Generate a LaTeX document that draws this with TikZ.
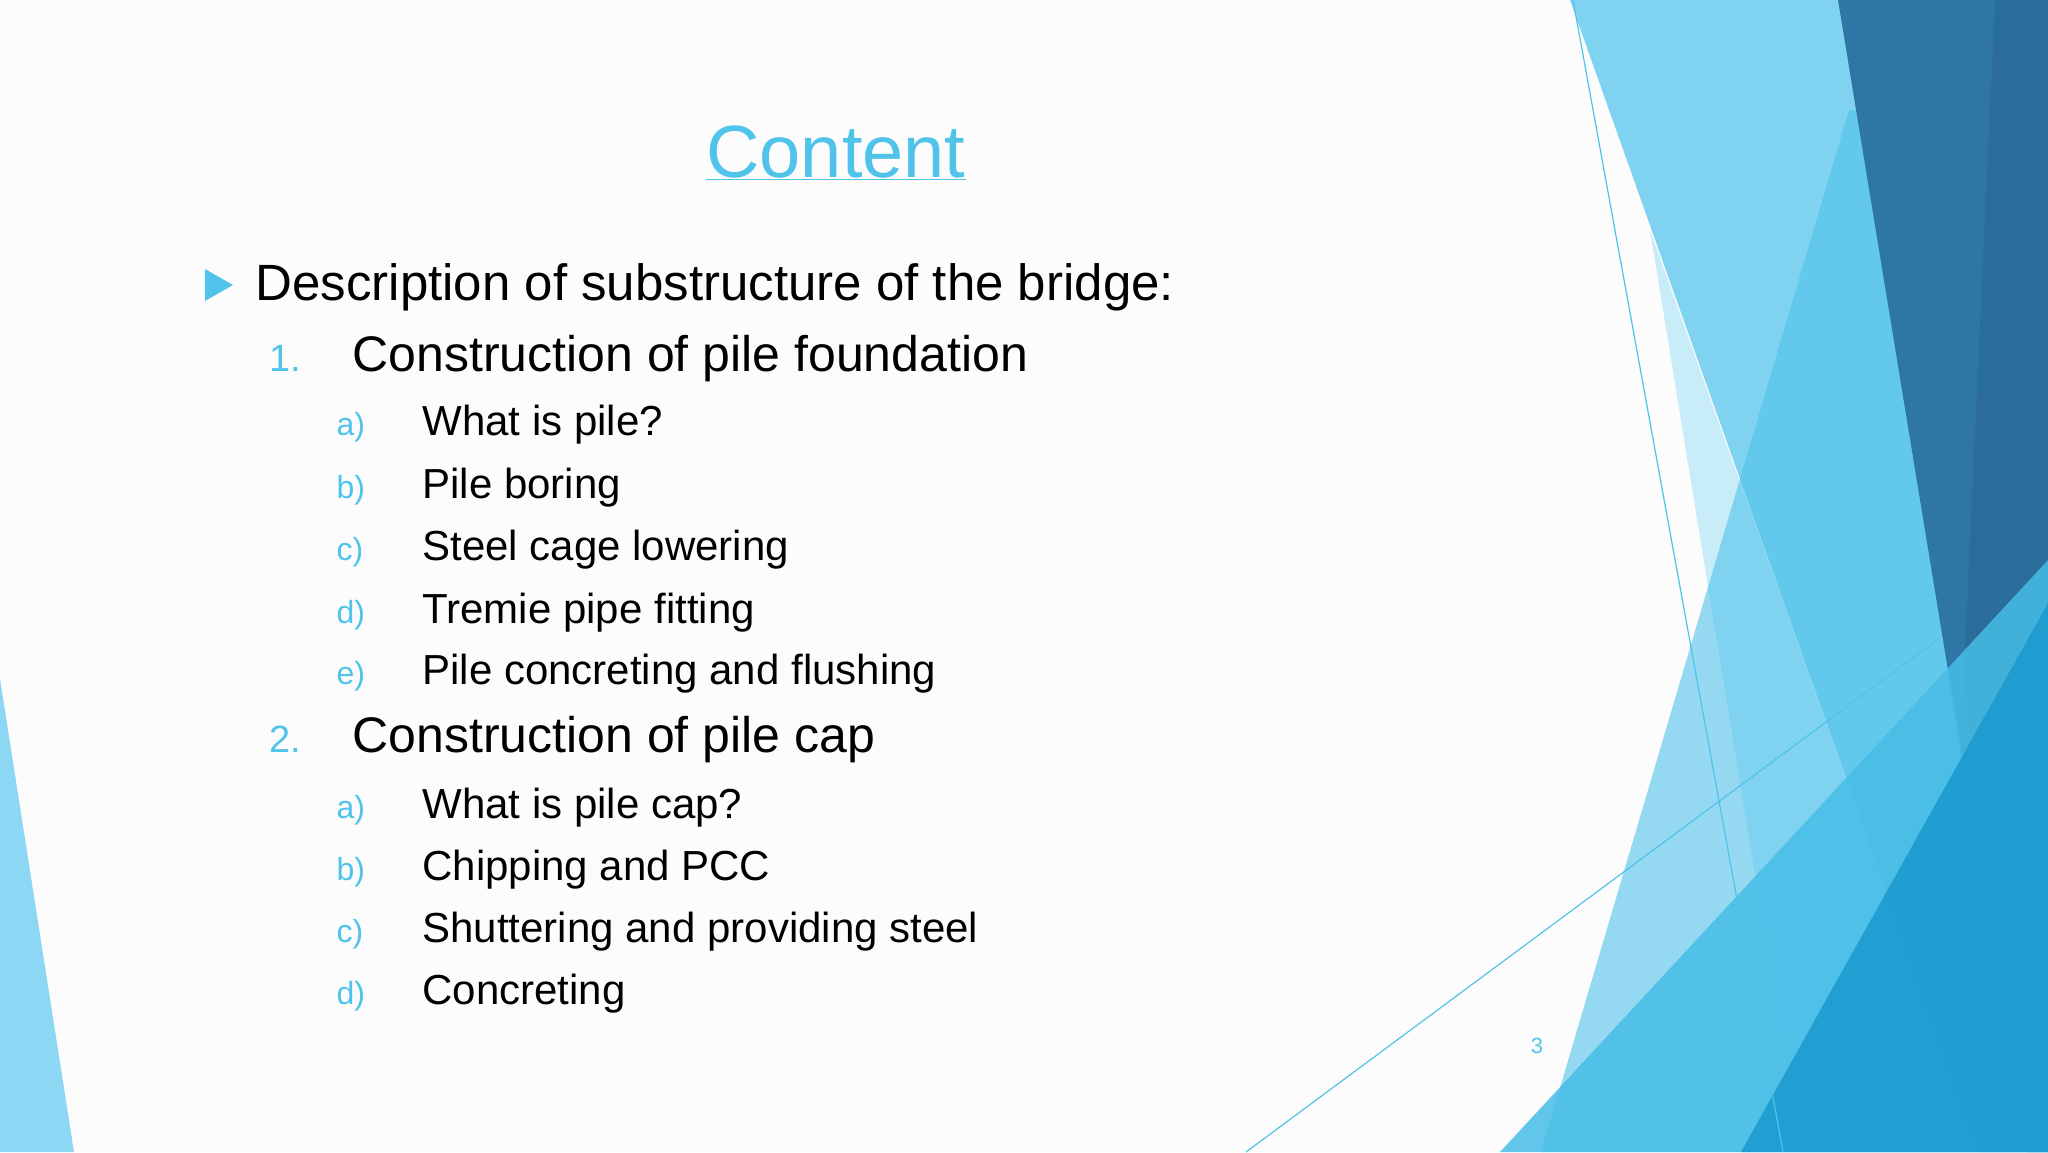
\documentclass[tikz,border=0pt]{standalone}
\usepackage{fontspec}
\setmainfont{Liberation Sans}
\definecolor{acc}{HTML}{4FC3EA}
\definecolor{lt}{HTML}{7FD3F1}
\definecolor{pale}{HTML}{C9ECF9}
\definecolor{dk}{HTML}{2E76A6}
\definecolor{md}{HTML}{1C9BD0}
\begin{document}
\begin{tikzpicture}[x=1pt,y=-1pt,
  lvl0/.style={anchor=base west,font=\fontsize{51}{60}\selectfont},
  lvl1/.style={anchor=base west,font=\fontsize{50}{60}\selectfont},
  num1/.style={anchor=base west,text=acc,font=\fontsize{38}{46}\selectfont},
  lvl2/.style={anchor=base west,font=\fontsize{42}{50}\selectfont},
  num2/.style={anchor=base west,text=acc,font=\fontsize{32}{40}\selectfont}]
\useasboundingbox (0,0) rectangle (2048,1152);
\fill[white!98!gray] (0,0) rectangle (2048,1152);
% decoration
\fill[lt] (1570,0) -- (2048,0) -- (2048,1152) -- (1979,1152) -- cycle;
\fill[pale] (1650,230) -- (1979,1152) -- (1800,1152) -- cycle;
\fill[acc,opacity=0.6] (1849,110) -- (2048,110) -- (2048,1152) -- (1541,1152) -- cycle;
\fill[dk] (1838,0) -- (2048,0) -- (2048,1152) -- (2027,1152) -- cycle;
\fill[dk!80!black,opacity=0.35] (1995,0) -- (2048,0) -- (2048,760) -- (1960,757) -- cycle;
\fill[acc!85!md,opacity=0.85] (2048,560) -- (1500,1152) -- (2048,1152) -- cycle;
\fill[md,opacity=0.9] (2048,603) -- (1741,1152) -- (2048,1152) -- cycle;
\draw[acc,line width=1.2] (1573,0) -- (1783,1152);
\draw[acc,line width=1.2] (1246,1152) -- (1938,639);
\fill[lt!90!white] (0,679) -- (74,1152) -- (0,1152) -- cycle;
% title
\node[anchor=base,text=acc,font=\fontsize{74}{86}\selectfont] (title) at (836,177) {\underline{Content}};
\fill[acc] (205,269) -- (233,285) -- (205,301) -- cycle;
\node[lvl0] (d) at (252,300) {Description of substructure of the bridge:};
\node[num1] (n1) at (266,371) {1.};
\node[lvl1] (t1) at (349,371) {Construction of pile foundation};
\node[num2] at (333,435) {a)}; \node[lvl2] at (419,435) {What is pile?};
\node[num2] at (333,498) {b)}; \node[lvl2] at (419,498) {Pile boring};
\node[num2] at (333,560) {c)}; \node[lvl2] at (419,560) {Steel cage lowering};
\node[num2] at (333,623) {d)}; \node[lvl2] at (419,623) {Tremie pipe fitting};
\node[num2] at (333,684) {e)}; \node[lvl2] at (419,684) {Pile concreting and flushing};
\node[num1] (n2) at (266,752) {2.};
\node[lvl1] (t2) at (349,752) {Construction of pile cap};
\node[num2] at (333,818) {a)}; \node[lvl2] at (419,818) {What is pile cap?};
\node[num2] at (333,880) {b)}; \node[lvl2] at (419,880) {Chipping and PCC};
\node[num2] at (333,942) {c)}; \node[lvl2] at (419,942) {Shuttering and providing steel};
\node[num2] at (333,1004) {d)}; \node[lvl2] at (419,1004) {Concreting};
\node[anchor=base,text=acc,font=\fontsize{22}{24}\selectfont] (pg) at (1537,1053) {3};
\end{tikzpicture}
\end{document}
